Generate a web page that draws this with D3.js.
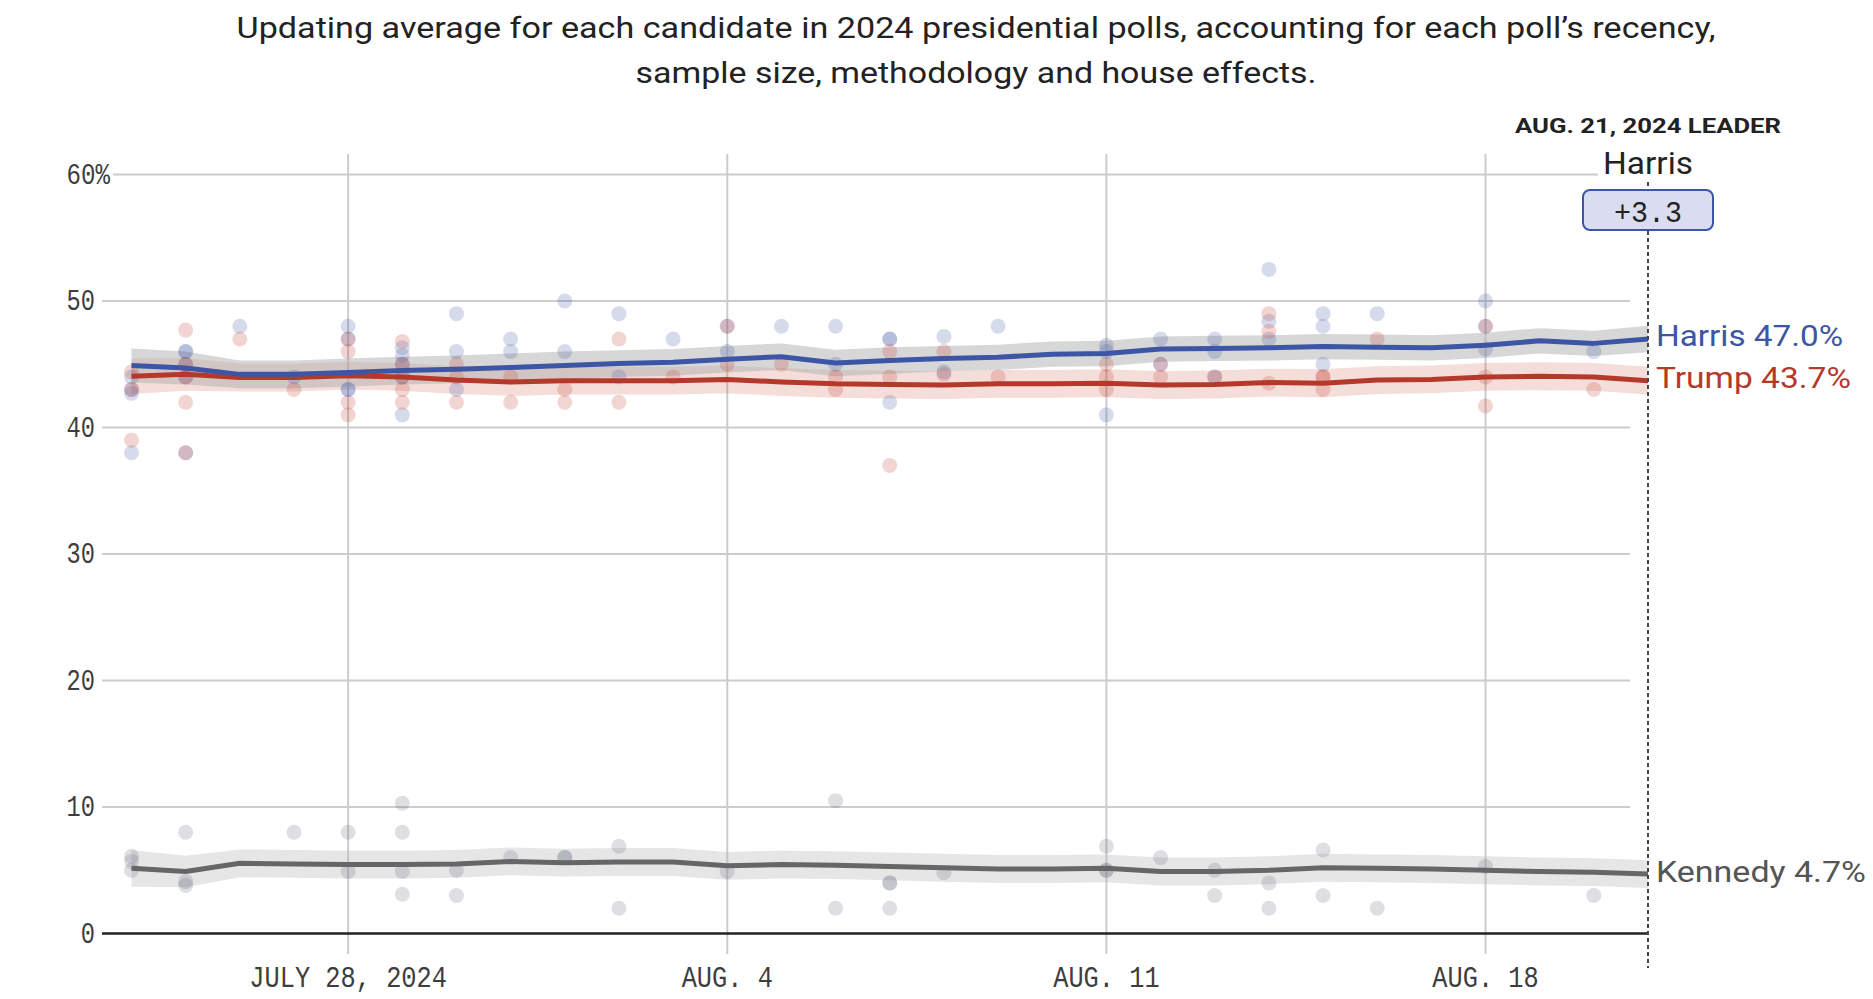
<!DOCTYPE html>
<html><head><meta charset="utf-8">
<script src="https://cdn.jsdelivr.net/npm/d3@7"></script>
<style>html,body{margin:0;padding:0;background:#fff;} svg{display:block;}</style>
</head><body><svg id="chart" width="1873" height="999"></svg>
<script>
// ---------------- DATA ----------------
const titleLines = [
  "Updating average for each candidate in 2024 presidential polls, accounting for each poll\u2019s recency,",
  "sample size, methodology and house effects."
];
const dates = ["2024-07-24","2024-07-25","2024-07-26","2024-07-27","2024-07-28","2024-07-29","2024-07-30",
  "2024-07-31","2024-08-01","2024-08-02","2024-08-03","2024-08-04","2024-08-05","2024-08-06","2024-08-07",
  "2024-08-08","2024-08-09","2024-08-10","2024-08-11","2024-08-12","2024-08-13","2024-08-14","2024-08-15",
  "2024-08-16","2024-08-17","2024-08-18","2024-08-19","2024-08-20","2024-08-21"];
const harrisAvg = [44.9,44.7,44.2,44.2,44.35,44.5,44.6,44.75,44.9,45.05,45.15,45.4,45.6,45.1,45.3,45.45,45.55,45.8,45.85,46.2,46.25,46.3,46.4,46.35,46.3,46.5,46.85,46.65,47.0];
const trumpAvg  = [44.05,44.2,43.95,43.95,44.1,44.0,43.75,43.6,43.7,43.7,43.7,43.8,43.6,43.45,43.4,43.35,43.45,43.45,43.5,43.35,43.4,43.55,43.5,43.75,43.8,44.0,44.05,44.0,43.7];
const kennedyAvg= [5.15,4.9,5.55,5.5,5.45,5.45,5.5,5.7,5.6,5.65,5.65,5.35,5.45,5.4,5.3,5.2,5.1,5.1,5.15,4.9,4.9,5.0,5.2,5.15,5.1,5.0,4.9,4.85,4.7];
const harrisMoe = [1.35,1.3,1.1,1.1,1.1,1.1,1.1,1.1,1.1,1.05,1.05,1.05,1.05,1.05,1.05,1.0,1.0,1.0,1.0,1.0,1.0,1.0,1.0,1.0,1.0,1.0,1.0,1.0,1.05];
const trumpMoe  = [1.4,1.3,1.1,1.1,1.1,1.1,1.1,1.1,1.1,1.1,1.1,1.1,1.1,1.1,1.1,1.1,1.1,1.1,1.1,1.1,1.1,1.1,1.1,1.1,1.1,1.1,1.1,1.1,1.1];
const kennedyMoe= [1.45,1.25,1.1,1.1,1.1,1.1,1.1,1.1,1.1,1.1,1.1,1.1,1.1,1.1,1.1,1.1,1.1,1.1,1.1,1.1,1.1,1.1,1.1,1.1,1.1,1.1,1.1,1.1,1.1];

const harrisPolls = [
 ["2024-07-24",44],["2024-07-24",43],["2024-07-24",42.7],["2024-07-24",38],
 ["2024-07-25",46],["2024-07-25",46],["2024-07-25",45],["2024-07-25",44],["2024-07-25",38],
 ["2024-07-26",48],["2024-07-27",44],
 ["2024-07-28",48],["2024-07-28",47],["2024-07-28",43],["2024-07-28",43],
 ["2024-07-29",46.3],["2024-07-29",45.7],["2024-07-29",45],["2024-07-29",44],["2024-07-29",41],
 ["2024-07-30",49],["2024-07-30",46],["2024-07-30",43],
 ["2024-07-31",47],["2024-07-31",46],
 ["2024-08-01",50],["2024-08-01",46],
 ["2024-08-02",49],["2024-08-02",44],
 ["2024-08-03",47],
 ["2024-08-04",48],["2024-08-04",46],
 ["2024-08-05",48],
 ["2024-08-06",48],["2024-08-06",45],
 ["2024-08-07",47],["2024-08-07",47],["2024-08-07",42],
 ["2024-08-08",47.2],["2024-08-08",44.4],
 ["2024-08-09",48],
 ["2024-08-11",46.5],["2024-08-11",46],["2024-08-11",41],
 ["2024-08-12",47],["2024-08-12",45],
 ["2024-08-13",47],["2024-08-13",46],["2024-08-13",44],
 ["2024-08-14",52.5],["2024-08-14",48.4],["2024-08-14",47],
 ["2024-08-15",49],["2024-08-15",48],["2024-08-15",45],
 ["2024-08-16",49],
 ["2024-08-18",50],["2024-08-18",48],["2024-08-18",46.2],
 ["2024-08-20",46]
];
const trumpPolls = [
 ["2024-07-24",44.4],["2024-07-24",43],["2024-07-24",39],
 ["2024-07-25",47.7],["2024-07-25",45],["2024-07-25",44],["2024-07-25",42],["2024-07-25",38],
 ["2024-07-26",47],["2024-07-27",43],
 ["2024-07-28",47],["2024-07-28",46],["2024-07-28",42],["2024-07-28",41],
 ["2024-07-29",46.8],["2024-07-29",45],["2024-07-29",44],["2024-07-29",43],["2024-07-29",42],
 ["2024-07-30",45],["2024-07-30",44],["2024-07-30",42],
 ["2024-07-31",44],["2024-07-31",42],
 ["2024-08-01",43],["2024-08-01",42],
 ["2024-08-02",47],["2024-08-02",42],
 ["2024-08-03",44],
 ["2024-08-04",48],["2024-08-04",45],
 ["2024-08-05",45],
 ["2024-08-06",44],["2024-08-06",43],
 ["2024-08-07",46],["2024-08-07",44],["2024-08-07",37],
 ["2024-08-08",46],["2024-08-08",44.2],
 ["2024-08-09",44],
 ["2024-08-11",45],["2024-08-11",44],["2024-08-11",43],
 ["2024-08-12",45],["2024-08-12",44],
 ["2024-08-13",44],
 ["2024-08-14",49],["2024-08-14",47.6],["2024-08-14",43.5],
 ["2024-08-15",44],["2024-08-15",44],["2024-08-15",43],
 ["2024-08-16",47],
 ["2024-08-18",48],["2024-08-18",44],["2024-08-18",41.7],
 ["2024-08-20",43]
];
const kennedyPolls = [
 ["2024-07-24",6.1],["2024-07-24",5.7],["2024-07-24",5.0],
 ["2024-07-25",8.0],["2024-07-25",4.1],["2024-07-25",3.8],
 ["2024-07-27",8.0],
 ["2024-07-28",8.0],["2024-07-28",4.9],
 ["2024-07-29",10.3],["2024-07-29",8.0],["2024-07-29",4.9],["2024-07-29",3.1],
 ["2024-07-30",5.0],["2024-07-30",3.0],
 ["2024-07-31",6.0],
 ["2024-08-01",6.0],["2024-08-01",6.0],
 ["2024-08-02",6.9],["2024-08-02",2.0],
 ["2024-08-04",4.9],
 ["2024-08-06",10.5],["2024-08-06",2.0],
 ["2024-08-07",4.0],["2024-08-07",4.0],["2024-08-07",2.0],
 ["2024-08-08",4.8],
 ["2024-08-11",6.9],["2024-08-11",5.0],["2024-08-11",5.0],
 ["2024-08-12",6.0],
 ["2024-08-13",5.0],["2024-08-13",3.0],
 ["2024-08-14",4.0],["2024-08-14",2.0],
 ["2024-08-15",6.6],["2024-08-15",3.0],
 ["2024-08-16",2.0],
 ["2024-08-18",5.3],
 ["2024-08-20",3.0]
];
const yTicks = [0,10,20,30,40,50,60];
const yTickLabels = ["0","10","20","30","40","50","60%"];
const xTickDates = ["2024-07-28","2024-08-04","2024-08-11","2024-08-18"];
const xTickLabels = ["JULY 28, 2024","AUG. 4","AUG. 11","AUG. 18"];
const candidates = ["Harris","Trump","Kennedy"];

// ---------------- CHART ----------------
const svg = d3.select("#chart");
const parse = d3.utcParse("%Y-%m-%d");
const x = d3.scaleUtc().domain([parse(dates[0]), parse(dates[dates.length-1])]).range([131.5, 1648]);
const y = d3.scaleLinear().domain([0, 60]).range([933.5, 174.5]);

const SANS = "Roboto, 'Liberation Sans', sans-serif";
const MONO = "'Liberation Mono', 'DejaVu Sans Mono', monospace";
const colors = {Harris:"#3d55a5", Trump:"#b5392b", Kennedy:"#666666"};
const labelColors = {Harris:"#3d55a5", Trump:"#b5392b", Kennedy:"#555555"};
const dotColors = {Harris:"#3d55a5", Trump:"#c0392b", Kennedy:"#62667a"};
const bandFill = {Harris:"rgba(175,175,175,0.5)", Trump:"rgba(205,85,65,0.2)", Kennedy:"rgba(180,180,180,0.33)"};

// title
svg.append("g").selectAll("text").data(titleLines).join("text")
  .attr("x", 976).attr("y", (d,i) => 38 + i*45)
  .attr("text-anchor","middle")
  .attr("font-family", SANS).attr("font-size", 29).attr("fill","#222")
  .attr("textLength", (d,i) => i===0 ? 1479 : 681)
  .attr("lengthAdjust","spacingAndGlyphs")
  .text(d => d);

const gGrid = svg.append("g");
// vertical gridlines
gGrid.selectAll("line.v").data(xTickDates).join("line")
  .attr("class","v")
  .attr("x1", d => x(parse(d))).attr("x2", d => x(parse(d)))
  .attr("y1", 154).attr("y2", 954)
  .attr("stroke","#cccccc").attr("stroke-width",2);

// y labels + horizontal gridlines
const yLab = svg.append("g");
yTicks.forEach((t, i) => {
  const label = yTickLabels[i];
  const numLen = String(t).length;
  const startX = 95 - numLen * 14.2;
  yLab.append("text")
    .attr("x", startX).attr("y", y(t) + 9)
    .attr("font-family", MONO).attr("font-size", 30).attr("fill","#3d3d3d")
    .attr("textLength", numLen * 14.2 + (label.length - numLen) * 15)
    .attr("lengthAdjust","spacingAndGlyphs")
    .text(label);
  const right = 95 + (label.length - numLen) * 15;
  const start = Math.max(102, right + 3);
  if (t !== 0) {
    gGrid.append("line")
      .attr("x1", start).attr("x2", 1630)
      .attr("y1", y(t)).attr("y2", y(t))
      .attr("stroke","#cccccc").attr("stroke-width",2);
  }
});

// x labels
svg.append("g").selectAll("text").data(xTickDates).join("text")
  .attr("x", d => x(parse(d))).attr("y", 987)
  .attr("text-anchor","middle")
  .attr("font-family", MONO).attr("font-size", 30).attr("fill","#3d3d3d")
  .attr("textLength", (d,i) => xTickLabels[i].length * 15.2)
  .attr("lengthAdjust","spacingAndGlyphs")
  .text((d,i) => xTickLabels[i]);

// series
const series = {
  Harris: {avg: harrisAvg, moe: harrisMoe, polls: harrisPolls},
  Trump: {avg: trumpAvg, moe: trumpMoe, polls: trumpPolls},
  Kennedy: {avg: kennedyAvg, moe: kennedyMoe, polls: kennedyPolls}
};
const rows = name => dates.map((d,i) => ({date: parse(d), v: series[name].avg[i], m: series[name].moe[i]}));

const area = d3.area().x(d => x(d.date)).y0(d => y(d.v - d.m)).y1(d => y(d.v + d.m));
const line = d3.line().x(d => x(d.date)).y(d => y(d.v));

const gBands = svg.append("g");
["Trump","Harris","Kennedy"].forEach(n => {
  gBands.append("path").datum(rows(n)).attr("d", area).attr("fill", bandFill[n]);
});

const gDots = svg.append("g");
["Kennedy","Harris","Trump"].forEach(n => {
  gDots.append("g").selectAll("circle").data(series[n].polls).join("circle")
    .attr("cx", d => x(parse(d[0]))).attr("cy", d => y(d[1])).attr("r", 7.5)
    .attr("fill", dotColors[n]).attr("fill-opacity", 0.21);
});

const gLines = svg.append("g");
["Kennedy","Trump","Harris"].forEach(n => {
  gLines.append("path").datum(rows(n)).attr("d", line)
    .attr("fill","none").attr("stroke", colors[n]).attr("stroke-width", 5)
    .attr("stroke-linejoin","round");
});

// zero line
svg.append("line").attr("x1",102).attr("x2",1649).attr("y1",y(0)).attr("y2",y(0))
  .attr("stroke","#222").attr("stroke-width",2.5);

// dotted leader line
const xEnd = x(parse(dates[dates.length-1]));
svg.append("line").attr("x1", xEnd).attr("x2", xEnd).attr("y1", 182).attr("y2", 968)
  .attr("stroke","#444").attr("stroke-width",2).attr("stroke-dasharray","4,3");

// end labels
const last = dates.length - 1;
const endLen = {Harris:187, Trump:195, Kennedy:210};
candidates.forEach(n => {
  const v = series[n].avg[last];
  svg.append("text")
    .attr("x", xEnd + 8).attr("y", y(v) + 7.5)
    .attr("font-family", SANS).attr("font-size", 30).attr("fill", labelColors[n])
    .attr("textLength", endLen[n]).attr("lengthAdjust","spacingAndGlyphs")
    .text(`${n} ${v.toFixed(1)}%`);
});

// leader header
const fmt = d3.utcFormat("%b. %-d, %Y");
svg.append("text").attr("x", xEnd).attr("y", 133).attr("text-anchor","middle")
  .attr("font-family", SANS).attr("font-weight", 700).attr("font-size", 21).attr("fill","#222")
  .attr("textLength", 266).attr("lengthAdjust","spacingAndGlyphs")
  .text(fmt(parse(dates[last])).toUpperCase() + " LEADER");
const leader = series.Harris.avg[last] >= series.Trump.avg[last] ? "Harris" : "Trump";
const margin = Math.abs(series.Harris.avg[last] - series.Trump.avg[last]);
svg.append("rect").attr("x", xEnd - 50).attr("y", 147).attr("width", 100).attr("height", 34).attr("fill","#fff");
svg.append("text").attr("x", xEnd).attr("y", 174).attr("text-anchor","middle")
  .attr("font-family", SANS).attr("font-size", 31).attr("fill","#222")
  .attr("textLength", 90).attr("lengthAdjust","spacingAndGlyphs")
  .text(leader);
svg.append("rect").attr("x", xEnd - 65).attr("y", 190).attr("width", 130).attr("height", 40)
  .attr("rx", 7).attr("fill","#d9ddef").attr("stroke", colors.Harris).attr("stroke-width", 2);
svg.append("text").attr("x", xEnd).attr("y", 221.5).attr("text-anchor","middle")
  .attr("font-family", MONO).attr("font-size", 30).attr("fill","#222")
  .attr("textLength", 68).attr("lengthAdjust","spacingAndGlyphs")
  .text("+" + margin.toFixed(1));
</script>
</body></html>
